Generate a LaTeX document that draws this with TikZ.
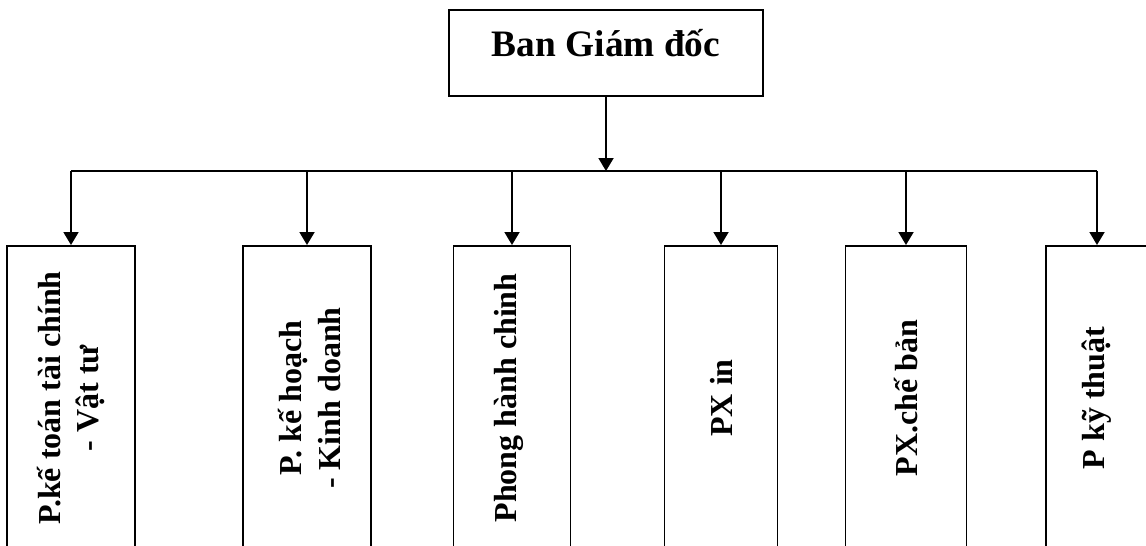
\documentclass[tikz,border=0pt]{standalone}
\usepackage{fontspec}
\setmainfont{Liberation Serif}
\usetikzlibrary{arrows.meta}
\begin{document}
\begin{tikzpicture}[x=0.75pt,y=-0.75pt,
  line width=1.4pt,
  box/.style={draw, line width=1.4pt, minimum width=#1, minimum height=228pt, anchor=north, inner sep=0pt},
  head/.style={draw, line width=1.4pt, minimum width=236pt, minimum height=64.5pt, anchor=north, inner sep=0pt},
  title/.style={font=\fontsize{28}{33}\selectfont\bfseries},
  vlabel/.style={rotate=90, align=center, font=\fontsize{24}{29}\selectfont\bfseries},
  arr/.style={-{Triangle[length=9.75pt,width=11.25pt]}}]
\clip (0,0) rectangle (1146,546);
\fill[white] (0,0) rectangle (1146,546);

% director's board
\node[head] (gd) at (606,9) {};
\node[title] (gdt) at (606,43) {Ban Giám đốc};

% departments
\node[box=96pt]   (b1) at (71,245) {};
\node[box=96pt]   (b2) at (307,245) {};
\node[box=87.75pt] (b3) at (512,245) {};
\node[box=84.75pt] (b4) at (721,245) {};
\node[box=90.75pt] (b5) at (906,245) {};
\node[box=76.5pt] (b6) at (1097,245) {};

\node[vlabel] (t1) at (b1.center) {P.kế toán tài chính\\- Vật tư};
\node[vlabel] (t2) at ([xshift=2pt]b2.center) {P. kế hoạch\\- Kinh doanh};
\node[vlabel] (t3) at ([xshift=-2pt]b3.center) {Phong hành chinh};
\node[vlabel] (t4) at (b4.center) {PX in};
\node[vlabel] (t5) at (b5.center) {PX.chế bản};
\node[vlabel] (t6) at (b6.center) {P kỹ thuật};

% connectors
\coordinate (bus) at (606,171);
\draw[arr] (gd.south) -- (bus);
\draw (b1.north |- bus) -- (b6.north |- bus);
\foreach \b in {b1,b2,b3,b4,b5,b6}
  \draw[arr] (\b.north |- bus) -- (\b.north);
\end{tikzpicture}
\end{document}
